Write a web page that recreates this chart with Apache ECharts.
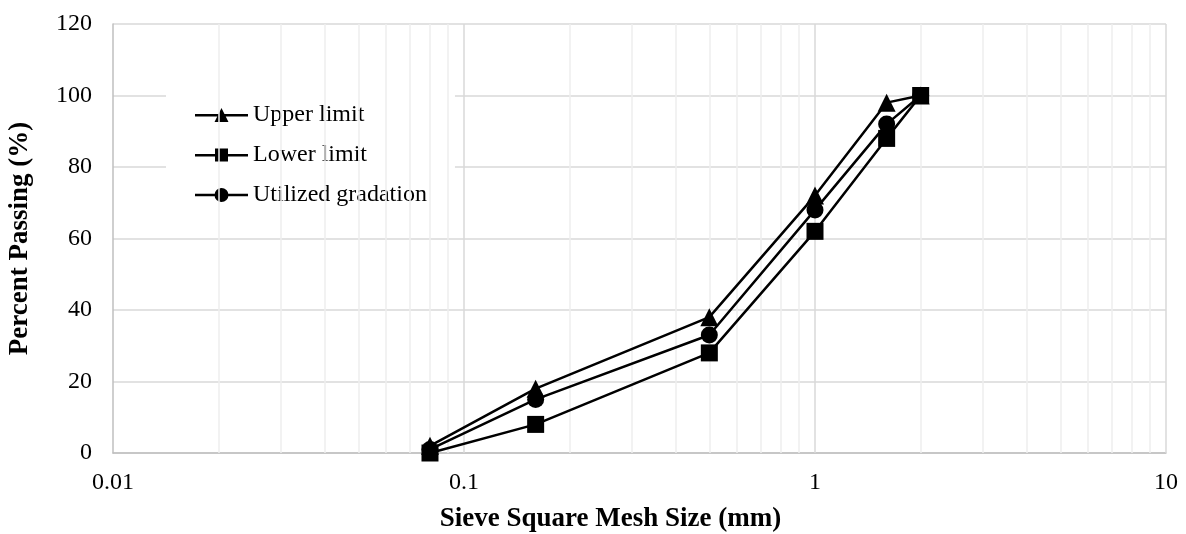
<!DOCTYPE html>
<html><head><meta charset="utf-8">
<script src="https://cdn.jsdelivr.net/npm/echarts@6/dist/echarts.min.js"></script>
<style>html,body{margin:0;padding:0;background:#fff}#c{width:1186px;height:534px}</style>
</head><body><div id="c"></div>
<script>
const sieveSizes = [0.08, 0.16, 0.5, 1, 1.6, 2];
const upperLimit = [2, 18, 38, 72, 98, 100];
const lowerLimit = [0, 8, 28, 62, 88, 100];
const utilized = [1, 15, 33, 68, 92, 100];
const minorGrid = [0.02,0.03,0.04,0.05,0.06,0.07,0.08,0.09,0.2,0.3,0.4,0.5,0.6,0.7,0.8,0.9,2,3,4,5,6,7,8,9];
const majorGrid = [0.1, 1, 10];

const font = 'Liberation Serif';
const bar = 'M0,7 L53,7 L53,9.5 L0,9.5 Z ';
const icons = {
  triangle: 'path://' + bar + 'M26.5,1 L33.5,15 L19.5,15 Z',
  rect: 'path://' + bar + 'M20,1.5 L33,1.5 L33,14.5 L20,14.5 Z',
  circle: 'path://' + bar + 'M19.5,8.25 A7,7 0 1,1 33.5,8.25 A7,7 0 1,1 19.5,8.25 Z'
};
const chart = echarts.init(document.getElementById('c'));
const mk = (name, data, symbol) => ({
  name, type: 'line', data: sieveSizes.map((x, i) => [x, data[i]]),
  symbol, symbolSize: symbol === 'triangle' ? 18 : 17,
  lineStyle: { color: '#000', width: 2.5 }, itemStyle: { color: '#000' },
  z: 5, animation: false
});
const gridSeries = {
  type: 'line', data: [], silent: true, z: 1, animation: false,
  markLine: {
    silent: true, symbol: 'none', label: { show: false }, animation: false,
    data: minorGrid.map(v => ({ xAxis: v, lineStyle: { color: '#eeeeee', width: 1.5, type: 'solid' } }))
      .concat(majorGrid.map(v => ({ xAxis: v, lineStyle: { color: '#d9d9d9', width: 1.5, type: 'solid' } })))
  }
};
chart.setOption({
  animation: false,
  textStyle: { fontFamily: font },
  grid: { left: 113, right: 20, top: 24, bottom: 81, outerBoundsMode: 'none', containLabel: false },
  legend: {
    data: [
      { name: 'Upper limit', icon: icons.triangle },
      { name: 'Lower limit', icon: icons.rect },
      { name: 'Utilized gradation', icon: icons.circle }
    ],
    orient: 'vertical', left: 166, top: 93,
    backgroundColor: '#fff',
    padding: [10, 28, 9, 29],
    itemWidth: 53, itemHeight: 16, itemGap: 16,
    itemStyle: { color: '#000', borderWidth: 0 },
    textStyle: { fontFamily: font, fontSize: 24, color: '#000', lineHeight: 24 }
  },
  xAxis: {
    type: 'log', logBase: 10, min: 0.01, max: 10,
    name: 'Sieve Square Mesh Size (mm)', nameLocation: 'middle', nameGap: 53,
    nameTextStyle: { fontFamily: font, fontSize: 27, fontWeight: 'bold', color: '#000', padding: [0, 58, 0, 0] },
    axisLine: { show: true, lineStyle: { color: '#bfbfbf', width: 1.5 } },
    axisTick: { show: false },
    axisLabel: { fontFamily: font, fontSize: 24, color: '#000', margin: 18 },
    splitLine: { show: false }
  },
  yAxis: {
    type: 'value', min: 0, max: 120, interval: 20,
    name: 'Percent Passing (%)', nameLocation: 'middle', nameGap: 79, nameRotate: 90,
    nameTextStyle: { fontFamily: font, fontSize: 27, fontWeight: 'bold', color: '#000' },
    axisLine: { show: true, lineStyle: { color: '#bfbfbf', width: 1.5 } },
    axisTick: { show: false },
    axisLabel: { fontFamily: font, fontSize: 24, color: '#000', margin: 21 },
    splitLine: { show: true, lineStyle: { color: '#d9d9d9', width: 1.5 } }
  },
  series: [gridSeries, mk('Upper limit', upperLimit, 'triangle'), mk('Lower limit', lowerLimit, 'rect'), mk('Utilized gradation', utilized, 'circle')]
});
</script></body></html>
